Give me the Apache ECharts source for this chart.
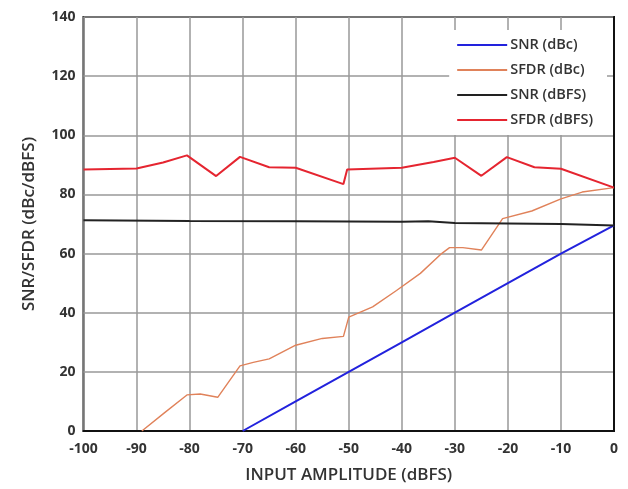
<!DOCTYPE html>
<html><head><meta charset="utf-8">
<script src="https://cdn.jsdelivr.net/npm/echarts@6/dist/echarts.min.js"></script>
<style>html,body{margin:0;padding:0;background:#fff}#c{width:628px;height:489px}</style>
</head><body><div id="c"></div>
<script>
const xTicks = [-100,-90,-80,-70,-60,-50,-40,-30,-20,-10,0];
const yTicks = [0,20,40,60,80,100,120,140];
const seriesNames = ['SNR (dBc)','SFDR (dBc)','SNR (dBFS)','SFDR (dBFS)'];
const snrDbc = [[-70,0],[-60,10],[-50,20],[-40,30],[-30,40],[-20,50],[-10,60],[0,69.5]];
const sfdrDbc = [[-89,0],[-84.7,6.2],[-80.5,12.2],[-78,12.5],[-74.7,11.4],[-70.5,22],[-68,23.2],[-65,24.4],[-60,29],[-55,31.3],[-51,32],[-50,38.5],[-45.5,42],[-41,47.5],[-36.5,53.3],[-32.5,60],[-31,62],[-28.5,62],[-25,61.2],[-21,71.8],[-15.5,74.4],[-10,78.5],[-6,80.8],[0,82.3]];
const snrDbfs = [[-100,71.3],[-80,71],[-60,70.9],[-40,70.8],[-35,70.9],[-30,70.3],[-20,70.2],[-10,70],[0,69.5]];
const sfdrDbfs = [[-100,88.4],[-90,88.8],[-85,90.8],[-80.5,93.2],[-75,86.2],[-70.5,92.7],[-65,89.2],[-60,89],[-51,83.5],[-50.3,88.4],[-40,89],[-34,91],[-30,92.4],[-25,86.3],[-20.2,92.6],[-15,89.2],[-10,88.7],[0,82.3]];
const colors = ['#2222dd','#e0825a','#222222','#e52530'];

const chart = echarts.init(document.getElementById('c'), null, {renderer:'canvas'});
const font = '"Open Sans", "DejaVu Sans", sans-serif';
const allData = [snrDbc, sfdrDbc, snrDbfs, sfdrDbfs];
const widths = [2, 1.4, 2, 2];
chart.setOption({
  animation: false,
  backgroundColor: '#fff',
  grid: {left: 83.5, right: 14, top: 17, bottom: 58, show: true, borderColor: '#111', borderWidth: 2, backgroundColor: 'transparent'},
  legend: {
    data: seriesNames.map(n => ({name: n, icon: 'rect'})),
    orient: 'vertical', right: 21, top: 30,
    backgroundColor: '#fff', padding: [6, 14, 6, 8],
    itemWidth: 50, itemHeight: 2, itemGap: 7,
    textStyle: {fontFamily: font, fontSize: 14.5, fontWeight: 600, color: '#333', lineHeight: 18, padding: [0,0,0,-2]}
  },
  xAxis: {
    type: 'value', min: xTicks[0], max: xTicks[xTicks.length-1], interval: 10,
    name: 'INPUT AMPLITUDE (dBFS)', nameLocation: 'middle', nameGap: 36,
    nameTextStyle: {fontFamily: font, fontSize: 17, fontWeight: 600, color: '#333'},
    axisLine: {show: true, lineStyle: {color: '#111', width: 2}},
    axisTick: {show: false},
    axisLabel: {fontFamily: font, fontSize: 14, fontWeight: 'bold', color: '#333', margin: 11},
    splitLine: {show: true, lineStyle: {color: '#999', width: 1.5}}
  },
  yAxis: {
    type: 'value', min: yTicks[0], max: yTicks[yTicks.length-1], interval: 20,
    name: 'SNR/SFDR (dBc/dBFS)', nameLocation: 'middle', nameGap: 46,
    nameTextStyle: {fontFamily: font, fontSize: 17, fontWeight: 600, color: '#333'},
    axisLine: {show: true, lineStyle: {color: '#111', width: 2}},
    axisTick: {show: false},
    axisLabel: {fontFamily: font, fontSize: 14, fontWeight: 'bold', color: '#333', margin: 8},
    splitLine: {show: true, lineStyle: {color: '#999', width: 1.5}}
  },
  series: seriesNames.map((n, i) => ({
    name: n, type: 'line', data: allData[i], showSymbol: false, symbol: 'none',
    lineStyle: {color: colors[i], width: widths[i]}, itemStyle: {color: colors[i]}
  }))
});
</script></body></html>
